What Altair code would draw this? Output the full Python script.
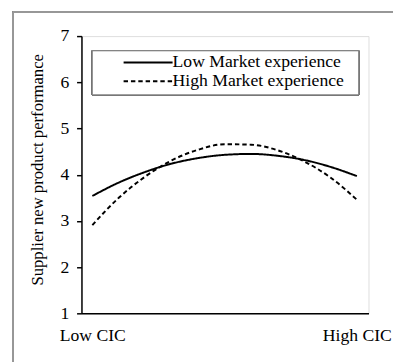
import altair as alt
import pandas as pd

x_vals = [0.0, 0.1, 0.2, 0.3, 0.4, 0.5, 0.6, 0.7, 0.8, 0.9, 1.0]
low_vals = [3.54, 3.83, 4.06, 4.24, 4.36, 4.43, 4.45, 4.41, 4.32, 4.17, 3.97]
high_vals = [2.91, 3.50, 3.96, 4.31, 4.54, 4.66, 4.65, 4.53, 4.29, 3.94, 3.46]
series_names = ["Low Market experience", "High Market experience"]
y_ticks = [1, 2, 3, 4, 5, 6, 7]
x_tick_labels = ["Low CIC", "High CIC"]
y_title = "Supplier new product performance"

rows = []
for name, vals in zip(series_names, [low_vals, high_vals]):
    for x, v in zip(x_vals, vals):
        rows.append({"x": x, "y": v, "series": name})
df = pd.DataFrame(rows)

FONT = "Liberation Serif"
W, H = 293, 283

label_expr = f"datum.value == 0 ? '{x_tick_labels[0]}' : '{x_tick_labels[1]}'"

lines = alt.Chart(df).mark_line(color="black", strokeWidth=2, interpolate="monotone").encode(
    x=alt.X("x:Q", scale=alt.Scale(domain=[-0.041, 1.044], nice=False, zero=False),
            axis=alt.Axis(values=[0, 1], labelExpr=label_expr, ticks=False, grid=False,
                          title=None, labelFontSize=18, labelPadding=14, labelFlush=False,
                          labelOverlap=False, domainColor="black", domainWidth=1.5,
                          labelColor="black", labelFont=FONT)),
    y=alt.Y("y:Q", scale=alt.Scale(domain=[1, 7], nice=False, zero=False),
            axis=alt.Axis(values=y_ticks, grid=False, tickSize=5, tickColor="black",
                          tickWidth=1.5, domainColor="black", domainWidth=1.5,
                          labelFontSize=18, labelPadding=8, labelColor="black", labelFont=FONT,
                          title=y_title, titleFont=FONT, titleFontSize=17, titleFontWeight="normal",
                          titleColor="black", titleX=-45, titleY=136, titleBaseline="middle",
                          titleAngle=-90)),
    strokeDash=alt.StrokeDash("series:N",
                              scale=alt.Scale(domain=series_names, range=[[1, 0], [4.5, 3]]),
                              legend=alt.Legend(title=None, orient="none", legendX=11, legendY=15,
                                                padding=3, labelLimit=400,
                                                labelFont=FONT, labelFontSize=18, labelColor="black",
                                                symbolType="M-5,0H5", symbolSize=100,
                                                symbolStrokeWidth=2, symbolStrokeColor="black",
                                                symbolOffset=45, labelOffset=16, rowPadding=1)),
    detail="series:N",
)

legend_box = alt.Chart(df).mark_rect(fill="white", stroke="#777", strokeWidth=1).encode(
    x=alt.value(11), x2=alt.value(283), y=alt.value(15), y2=alt.value(60))

frame_left = alt.Chart(df).mark_rule(color="#999", strokeWidth=1).encode(
    x=alt.value(-70), y=alt.value(-25), y2=alt.value(H + 60))
frame_top = alt.Chart(df).mark_rule(color="#999", strokeWidth=1).encode(
    x=alt.value(-70), x2=alt.value(W + 40), y=alt.value(-24.5))

chart = alt.layer(frame_left, frame_top, legend_box, lines).properties(
    width=W, height=H,
    autosize=alt.AutoSizeParams(type="none"),
    padding={"left": 75, "top": 25, "right": 25, "bottom": 46},
).configure_view(stroke="#888", strokeWidth=1.5).configure(background="white")

chart.save("out.html", embed_options={"renderer": "svg", "actions": False})
